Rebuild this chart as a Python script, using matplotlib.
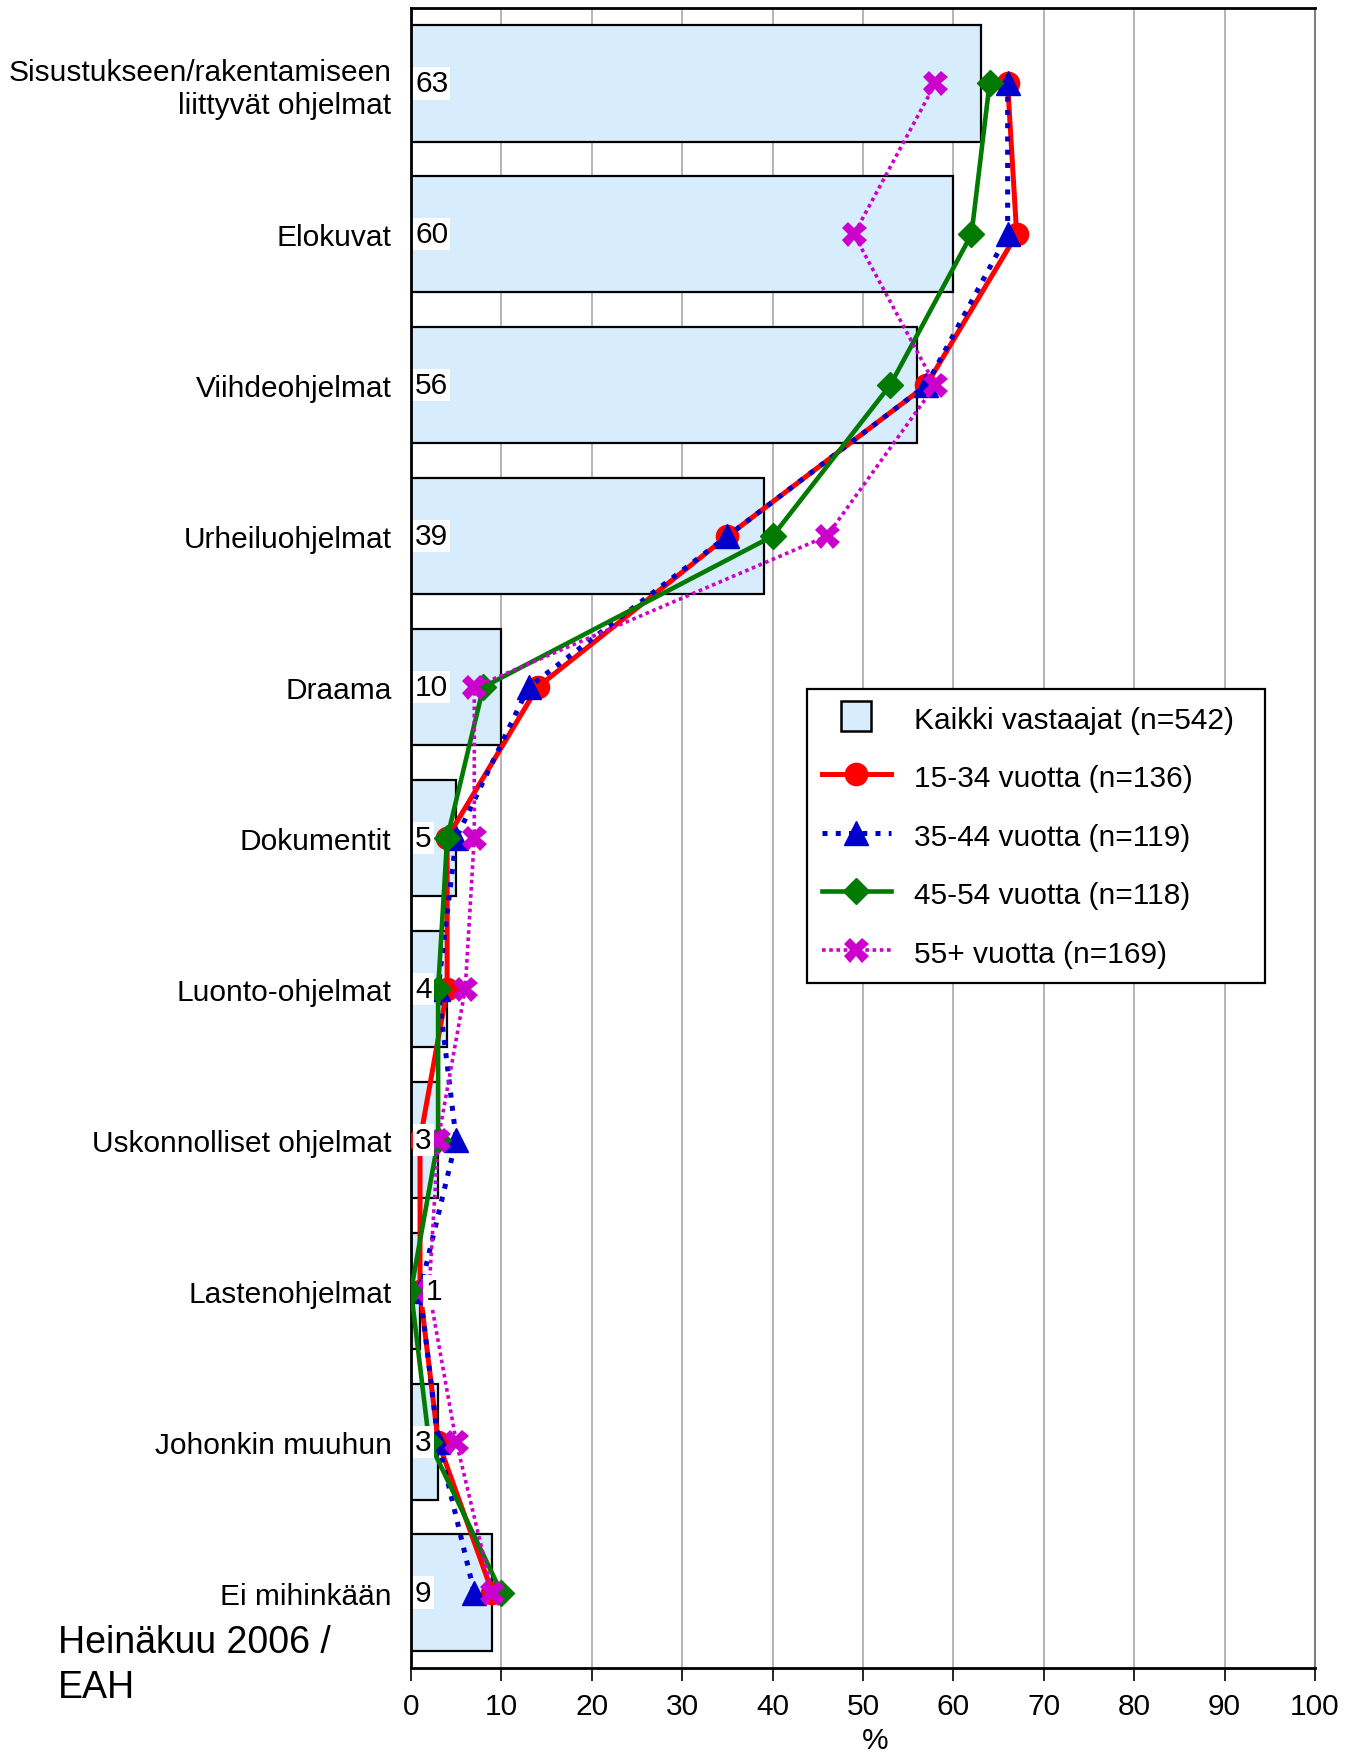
import numpy as np
import matplotlib.pyplot as plt
from matplotlib.lines import Line2D

plt.rcParams['font.family'] = ['Liberation Sans', 'DejaVu Sans']

# Ohjelmatyypit ja osuudet (%)
kategoriat = ['Sisustukseen/rakentamiseen\nliittyvät ohjelmat', 'Elokuvat', 'Viihdeohjelmat',
              'Urheiluohjelmat', 'Draama', 'Dokumentit', 'Luonto-ohjelmat',
              'Uskonnolliset ohjelmat', 'Lastenohjelmat', 'Johonkin muuhun', 'Ei mihinkään']
kaikki = [63, 60, 56, 39, 10, 5, 4, 3, 1, 3, 9]
ika_15_34 = [66, 67, 57, 35, 14, 4, 4, 1, 1, 3, 9]
ika_35_44 = [66, 66, 57, 35, 13, 5, 3, 5, 1, 3, 7]
ika_45_54 = [64, 62, 53, 40, 8, 4, 3, 3, 0, 2, 10]
ika_55 = [58, 49, 58, 46, 7, 7, 6, 3, 2, 5, 9]

nimet = ['Kaikki vastaajat (n=542)', '15-34 vuotta (n=136)', '35-44 vuotta (n=119)',
         '45-54 vuotta (n=118)', '55+ vuotta (n=169)']

FS = 21.5
W, H = 1358, 1758
fig = plt.figure(figsize=(W / 100, H / 100), dpi=100)
ax = fig.add_axes([411 / W, 1 - 1669 / H, (1315 - 411) / W, (1669 - 9) / H])

y = np.arange(len(kategoriat))
palkki = '#D7ECFC'

ax.barh(y, kaikki, height=0.77, color=palkki, edgecolor='black', linewidth=1.6, zorder=2)

# arvot palkkien vasempaan reunaan, pienin siirretään merkkien oikealle puolelle
for yi, v in zip(y, kaikki):
    lx = 0.45 if v >= 2 else 1.6
    ax.text(lx, yi, str(v), ha='left', va='center', fontsize=FS, zorder=10,
            bbox=dict(facecolor='white', edgecolor='none', pad=1.5))

tyylit = [
    dict(color='#FF0000', lw=3.6, marker='o', ms=16),
    dict(color='#0000CC', lw=3.6, ls=':', marker='^', ms=17, dash_capstyle='butt'),
    dict(color='#007A00', lw=3.3, marker='D', ms=13),
    dict(color='#CC00CC', lw=2.6, ls=(0, (1, 1)), marker='X', ms=18, mew=0),
]
for i, (arvot, st) in enumerate(zip([ika_15_34, ika_35_44, ika_45_54, ika_55], tyylit)):
    ax.plot(arvot, y, zorder=5 + i, **st)

ax.set_xlim(0, 100)
ax.set_ylim(len(kategoriat) - 0.5, -0.5)
ax.set_xticks(np.arange(0, 101, 10))
ax.set_yticks(y)
ax.set_yticklabels(kategoriat, fontsize=FS)
ax.tick_params(axis='y', length=0, pad=14)
ax.tick_params(axis='x', labelsize=FS, length=9, width=1.2, pad=8, direction='out')
ax.xaxis.grid(True, color='#A8A8A8', lw=1.2, zorder=0)
ax.set_axisbelow(True)
ax.set_xlabel('%', fontsize=FS)
ax.xaxis.set_label_coords(0.513, -0.035)

for s in ['left', 'bottom', 'top']:
    ax.spines[s].set_linewidth(2)
    ax.spines[s].set_color('black')
ax.spines['right'].set_color('#808080')
ax.spines['right'].set_linewidth(1.5)

kahvat = [Line2D([], [], ls='none', marker='s', ms=21, mfc=palkki, mec='black', mew=1.8)]
kahvat += [Line2D([], [], **st) for st in tyylit]
leg = fig.legend(kahvat, nimet, loc='upper left',
                 bbox_to_anchor=(807 / W, 1 - 690 / H - 0.01, (1265 - 807) / W, 0.01),
                 mode='expand',
                 fontsize=FS, frameon=True, fancybox=False, framealpha=1, edgecolor='black',
                 handlelength=2.3, handleheight=1.0, handletextpad=0.8, labelspacing=0.97,
                 borderpad=0.5, borderaxespad=0)
leg.get_frame().set_linewidth(1.6)

fig.text(58 / W, 1 - 1643 / H, 'Heinäkuu 2006 /', fontsize=27, va='center', ha='left')
fig.text(58 / W, 1 - 1688 / H, 'EAH', fontsize=27, va='center', ha='left')

fig.savefig('out.png', dpi=100)
